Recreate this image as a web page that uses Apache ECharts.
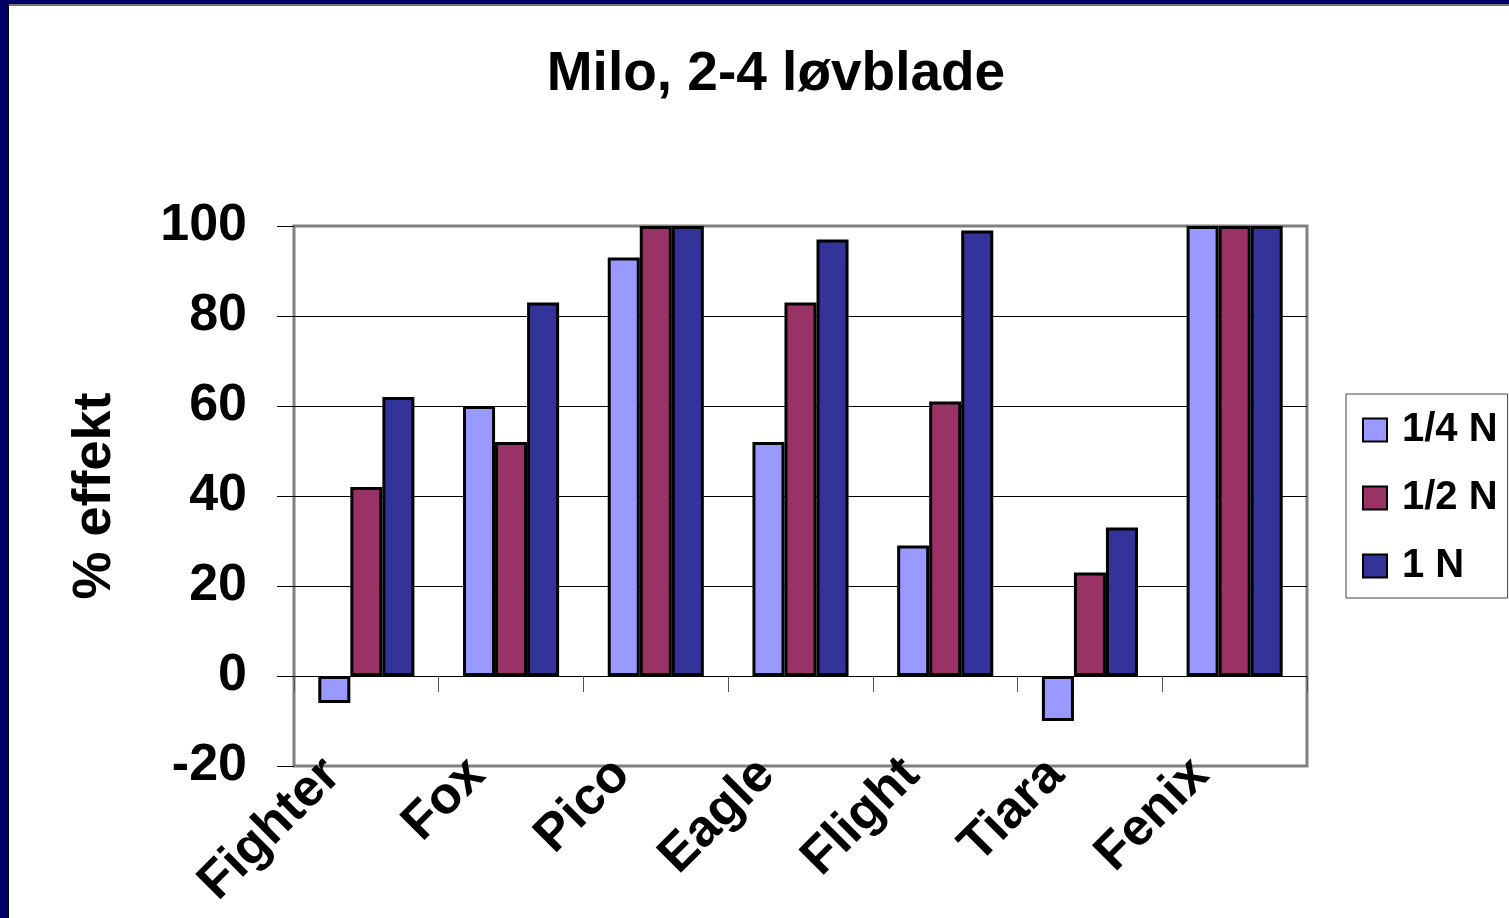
<!DOCTYPE html>
<html>
<head>
<meta charset="utf-8">
<script src="https://cdn.jsdelivr.net/npm/echarts@6/dist/echarts.min.js"></script>
<style>
  html, body { margin: 0; padding: 0; background: #fff; }
  #main { width: 1509px; height: 918px; }
</style>
</head>
<body>
<div id="main"></div>
<script>
var categories = ['Fighter', 'Fox', 'Pico', 'Eagle', 'Flight', 'Tiara', 'Fenix'];
var seriesNames = ['1/4 N', '1/2 N', '1 N'];
var quarterN = [-6, 60, 93, 52, 29, -10, 100];
var halfN = [42, 52, 100, 83, 61, 23, 100];
var oneN = [62, 83, 100, 97, 99, 33, 100];
var yTicks = [-20, 0, 20, 40, 60, 80, 100];

var font = '"Liberation Sans", Arial, sans-serif';
var chart = echarts.init(document.getElementById('main'), null, { renderer: 'canvas' });

function barSeries(name, data, color) {
  return {
    name: name,
    type: 'bar',
    data: data,
    barGap: '0%',
    barCategoryGap: '33.6%',
    itemStyle: { color: color, borderColor: '#000', borderWidth: 3 }
  };
}

var option = {
  animation: false,
  backgroundColor: '#fff',
  textStyle: { fontFamily: font },
  title: {
    text: 'Milo, 2-4 løvblade',
    left: 771,
    top: 42,
    textAlign: 'center',
    textStyle: { fontSize: 55, fontWeight: 'bold', color: '#000', fontFamily: font }
  },
  graphic: [
    { type: 'rect', shape: { x: 0, y: 0, width: 8, height: 918 }, style: { fill: '#000066' } },
    { type: 'rect', shape: { x: 0, y: 0, width: 1509, height: 4 }, style: { fill: '#000066' } },
    { type: 'line', shape: { x1: 8, y1: 5, x2: 1509, y2: 5 }, style: { stroke: '#777', lineWidth: 2 } },
    { type: 'line', shape: { x1: 8.5, y1: 4, x2: 8.5, y2: 918 }, style: { stroke: '#000', lineWidth: 1 } }
  ],
  legend: {
    data: seriesNames,
    orient: 'vertical',
    left: 1346,
    top: 394,
    padding: [16, 10, 12, 16],
    itemGap: 28,
    itemWidth: 24,
    itemHeight: 23,
    icon: 'rect',
    borderColor: '#444',
    borderWidth: 1,
    textStyle: { fontSize: 40, fontWeight: 'bold', color: '#000', lineHeight: 40, padding: [0, 0, 0, 10], fontFamily: font }
  },
  grid: {
    left: 294,
    right: 202,
    top: 226,
    bottom: 152,
    show: true,
    borderColor: '#808080',
    borderWidth: 3,
    containLabel: false,
    outerBoundsMode: 'none'
  },
  xAxis: {
    type: 'category',
    data: categories,
    axisLine: { show: true, onZero: true, lineStyle: { color: '#000', width: 1 } },
    axisTick: { show: true, length: 16, lineStyle: { color: '#555', width: 1 } },
    axisLabel: {
      rotate: 45,
      margin: -33,
      padding: [0, 48, 0, 0],
      fontSize: 52,
      fontWeight: 'bold',
      color: '#000',
      fontFamily: font
    }
  },
  yAxis: {
    type: 'value',
    min: yTicks[0],
    max: yTicks[yTicks.length - 1],
    interval: 20,
    name: '% effekt',
    nameLocation: 'middle',
    nameGap: 172,
    nameTextStyle: { fontSize: 54, fontWeight: 'bold', color: '#000', fontFamily: font },
    axisLine: { show: false },
    axisTick: { show: true, length: 17, lineStyle: { color: '#000', width: 1 } },
    axisLabel: { margin: 47, fontSize: 52, fontWeight: 'bold', color: '#000', fontFamily: font },
    splitLine: { show: true, showMinLine: false, showMaxLine: false, lineStyle: { color: '#000', width: 1 } }
  },
  series: [
    barSeries(seriesNames[0], quarterN, '#9999FF'),
    barSeries(seriesNames[1], halfN, '#993366'),
    barSeries(seriesNames[2], oneN, '#333399')
  ]
};

chart.setOption(option);
</script>
</body>
</html>
